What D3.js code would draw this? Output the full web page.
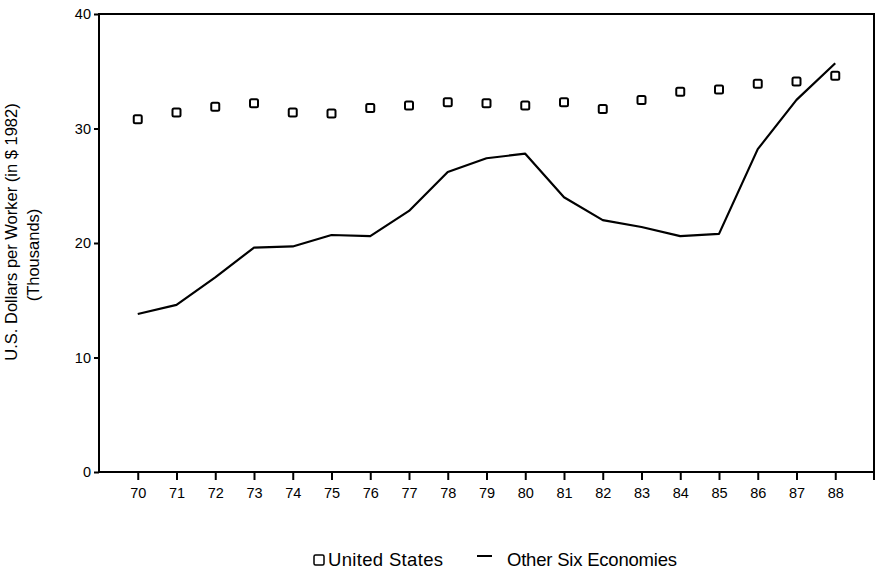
<!DOCTYPE html>
<html>
<head>
<meta charset="utf-8">
<script src="https://cdn.jsdelivr.net/npm/d3@7"></script>
<style>
  body { margin: 0; background: #fff; }
  svg { display: block; font-family: "Liberation Sans", Arial, Helvetica, sans-serif; }
</style>
</head>
<body>
<div id="chart"></div>
<script>
// values (thousands of 1982 US$ per worker)
const years = [70, 71, 72, 73, 74, 75, 76, 77, 78, 79, 80, 81, 82, 83, 84, 85, 86, 87, 88];
const unitedStates = [30.8, 31.4, 31.9, 32.2, 31.4, 31.3, 31.8, 32.0, 32.3, 32.2, 32.0, 32.3, 31.7, 32.5, 33.2, 33.4, 33.9, 34.1, 34.6];
const otherSix = [13.8, 14.6, 17.0, 19.6, 19.7, 20.7, 20.6, 22.8, 26.2, 27.4, 27.8, 24.0, 22.0, 21.4, 20.6, 20.8, 28.2, 32.5, 35.7];
const yTicks = [0, 10, 20, 30, 40];
const legendLabels = ["United States", "Other Six Economies"];
const yLabelLines = ["U.S. Dollars per Worker (in $ 1982)", "(Thousands)"];

const width = 877, height = 579;
const margins = {top: 14, right: 3, bottom: 107, left: 99};

const svg = d3.select("#chart")
  .append("svg")
  .attr("width", width)
  .attr("height", height);

const xScale = d3.scaleLinear()
  .domain([69, 89])
  .range([margins.left, width - margins.right]);

const yScale = d3.scaleLinear()
  .domain([0, 40])
  .range([height - margins.bottom, margins.top]);

// frame
svg.append("rect")
  .attr("x", xScale(69))
  .attr("y", yScale(40))
  .attr("width", xScale(89) - xScale(69))
  .attr("height", yScale(0) - yScale(40))
  .attr("fill", "none")
  .attr("stroke", "#000")
  .attr("stroke-width", 2);

// right border runs a bit below the axis
svg.append("line")
  .attr("x1", xScale(89)).attr("x2", xScale(89))
  .attr("y1", yScale(0)).attr("y2", yScale(0) + 8)
  .attr("stroke", "#000").attr("stroke-width", 2);

// x axis
const xAxis = svg.append("g")
  .attr("transform", "translate(0," + yScale(0) + ")")
  .call(d3.axisBottom(xScale).tickValues(years).tickSize(8).tickPadding(8).tickFormat(d => d));
xAxis.select(".domain").remove();
xAxis.selectAll("line").attr("stroke-width", 2);
xAxis.selectAll("text").attr("font-size", "14.5px").attr("fill", "#000")
  .attr("font-family", "Liberation Sans, Arial, sans-serif");

// y axis
const yAxis = svg.append("g")
  .attr("transform", "translate(" + xScale(69) + ",0)")
  .call(d3.axisLeft(yScale).tickValues(yTicks).tickSize(5).tickPadding(3));
yAxis.select(".domain").remove();
yAxis.selectAll("line").attr("stroke-width", 2);
yAxis.selectAll("text").attr("font-size", "14.5px").attr("fill", "#000")
  .attr("font-family", "Liberation Sans, Arial, sans-serif");

// y label, two lines
svg.append("text")
  .attr("transform", "translate(17,232) rotate(-90)")
  .attr("text-anchor", "middle")
  .attr("font-size", "16.5px")
  .text(yLabelLines[0]);
svg.append("text")
  .attr("transform", "translate(39,255) rotate(-90)")
  .attr("text-anchor", "middle")
  .attr("font-size", "16.5px")
  .text(yLabelLines[1]);

// other six economies line
const line = d3.line()
  .x((d, i) => xScale(years[i]))
  .y(d => yScale(d));

svg.append("path")
  .datum(otherSix)
  .attr("d", line)
  .attr("fill", "none")
  .attr("stroke", "#000")
  .attr("stroke-width", 2.2)
  .attr("stroke-linejoin", "round");

// united states squares
const sq = 8;
svg.append("g")
  .selectAll("rect")
  .data(unitedStates)
  .join("rect")
    .attr("x", (d, i) => xScale(years[i]) - sq / 2)
    .attr("y", d => yScale(d) - sq / 2)
    .attr("width", sq)
    .attr("height", sq)
    .attr("rx", 1.5)
    .attr("fill", "#fff")
    .attr("stroke", "#000")
    .attr("stroke-width", 2);

// legend
const legend = svg.append("g").attr("font-size", "18.5px");
legend.append("rect")
  .attr("x", 314).attr("y", 555)
  .attr("width", 10).attr("height", 10)
  .attr("rx", 1.5)
  .attr("fill", "#fff").attr("stroke", "#000").attr("stroke-width", 1.5);
legend.append("text")
  .attr("x", 328).attr("y", 566)
  .attr("textLength", 115)
  .text(legendLabels[0]);
legend.append("line")
  .attr("x1", 477).attr("x2", 492)
  .attr("y1", 556).attr("y2", 556)
  .attr("stroke", "#000").attr("stroke-width", 2);
legend.append("text")
  .attr("x", 507).attr("y", 566)
  .attr("textLength", 170)
  .text(legendLabels[1]);
</script>
</body>
</html>
